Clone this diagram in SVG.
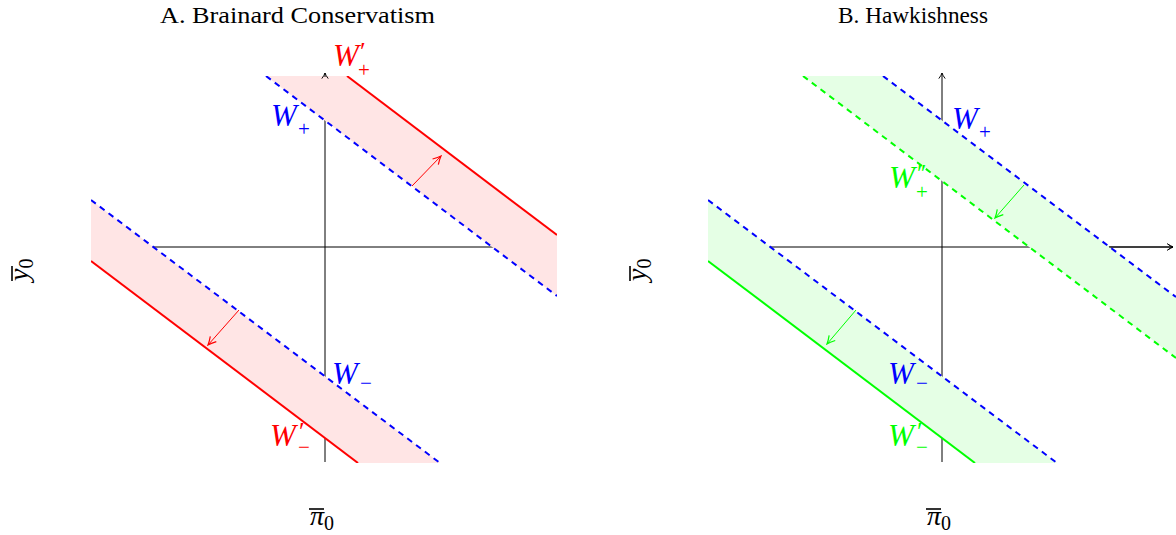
<svg xmlns="http://www.w3.org/2000/svg" width="1176" height="535" viewBox="0 0 1176 535">
<style>
.title{font-family:"Liberation Serif",serif;font-size:23px;fill:#000}
.lab{font-family:"Liberation Serif",serif;font-style:italic;font-size:31px}
.sub{font-size:21px;font-style:normal}
.pr{font-size:26px;font-style:normal}
.ax{stroke:#000;stroke-width:1;fill:none}
.dash{stroke:#0000FF;stroke-width:2;stroke-dasharray:6 5;fill:none}
.red{stroke:#FF0000;stroke-width:2;fill:none}
.grn{stroke:#00FF00;stroke-width:2;fill:none}
.grnd{stroke:#00FF00;stroke-width:2;stroke-dasharray:6 5;fill:none}
.pink{fill:#FFE5E5;stroke:none}
.lgrn{fill:#E5FFE5;stroke:none}
.axl{font-family:"Liberation Serif",serif;font-style:italic;font-size:28px;fill:#000}
.axs{font-size:20px;font-style:normal}
</style>
<defs>
<clipPath id="clipA"><rect x="91" y="76" width="466" height="387"/></clipPath>
<clipPath id="clipB"><rect x="708" y="76" width="468" height="387"/></clipPath>
<marker id="axarrow" viewBox="0 0 10 10" refX="9" refY="5" markerWidth="8" markerHeight="8" markerUnits="userSpaceOnUse" orient="auto">
<path d="M2,1 Q6,4 9,5 Q6,6 2,9" fill="none" stroke="#000" stroke-width="1.2"/>
</marker>
<marker id="redarrow" viewBox="0 0 10 10" refX="9" refY="5" markerWidth="10" markerHeight="10" markerUnits="userSpaceOnUse" orient="auto">
<path d="M1,1 Q6,4 9,5 Q6,6 1,9" fill="none" stroke="#FF0000" stroke-width="1.2"/>
</marker>
<marker id="grnarrow" viewBox="0 0 10 10" refX="9" refY="5" markerWidth="10" markerHeight="10" markerUnits="userSpaceOnUse" orient="auto">
<path d="M1,1 Q6,4 9,5 Q6,6 1,9" fill="none" stroke="#00FF00" stroke-width="1.2"/>
</marker>
</defs>

<g id="titles">
<text class="title" x="160" y="23" textLength="275" lengthAdjust="spacingAndGlyphs">A. Brainard Conservatism</text>
<text class="title" x="838" y="23" textLength="150" lengthAdjust="spacingAndGlyphs">B. Hawkishness</text>
</g>

<g id="panelA">
<g id="axesA">
<line class="ax" x1="94" y1="247" x2="556" y2="247" marker-end="url(#axarrow)"/>
<line class="ax" x1="325" y1="462" x2="325" y2="76"/>
</g>
<g id="bandsA" clip-path="url(#clipA)">
<polygon class="pink" points="266,76 347,76 557,235 557,296"/>
<polygon class="pink" points="91,200 440,463 358,463 91,261"/>
</g>
<g id="connectorsA">
<line class="ax" x1="325" y1="77" x2="325" y2="73" marker-end="url(#axarrow)"/>
<g clip-path="url(#clipA)">
<line class="dash" x1="266" y1="76" x2="557" y2="296"/>
<line class="red" x1="347" y1="76" x2="557" y2="235"/>
<line class="dash" x1="91" y1="200" x2="440" y2="463"/>
<line class="red" x1="91" y1="261" x2="358" y2="463"/>
<line stroke="#FF0000" stroke-width="1" x1="412" y1="186" x2="441" y2="156" marker-end="url(#redarrow)"/>
<line stroke="#FF0000" stroke-width="1" x1="239" y1="310" x2="208" y2="345" marker-end="url(#redarrow)"/>
</g>
</g>
<g id="labelsA">
<text class="lab" fill="#0000FF" x="271" y="126">W<tspan class="sub" x="298" y="136">+</tspan></text>
<text class="lab" fill="#FF0000" x="333" y="66">W<tspan class="pr" x="360" y="60">′</tspan><tspan class="sub" x="358" y="77">+</tspan></text>
<text class="lab" fill="#0000FF" x="332" y="384">W<tspan class="sub" x="360" y="390">−</tspan></text>
<text class="lab" fill="#FF0000" x="270" y="446">W<tspan class="pr" x="299" y="440">′</tspan><tspan class="sub" x="298" y="454">−</tspan></text>
</g>
<g id="axlabelsA">
<text class="axl" x="310" y="525">π<tspan class="axs" dy="5">0</tspan></text>
<line x1="309" y1="509" x2="324" y2="509" stroke="#000" stroke-width="1.6"/>
<g transform="translate(28,281) rotate(-90)">
<text class="axl" x="0" y="0">y<tspan class="axs" dy="5">0</tspan></text>
<line x1="0" y1="-16" x2="15" y2="-16" stroke="#000" stroke-width="1.6"/>
</g>
</g>
</g>

<g id="panelB">
<g id="axesB">
<line class="ax" x1="711" y1="247" x2="1173" y2="247" marker-end="url(#axarrow)"/>
<line class="ax" x1="942" y1="462" x2="942" y2="73" marker-end="url(#axarrow)"/>
</g>
<g id="bandsB" clip-path="url(#clipB)">
<polygon class="lgrn" points="803,76 883,76 1176,297 1176,358"/>
<polygon class="lgrn" points="708,200 1057,463 975,463 708,261"/>
</g>
<g id="connectorsB" clip-path="url(#clipB)">
<line class="ax" x1="1109" y1="247" x2="1173" y2="247" marker-end="url(#axarrow)"/>
<line class="dash" x1="883" y1="76" x2="1176" y2="297"/>
<line class="grnd" x1="803" y1="76" x2="1176" y2="358"/>
<line class="dash" x1="708" y1="200" x2="1057" y2="463"/>
<line class="grn" x1="708" y1="261" x2="975" y2="463"/>
<line stroke="#00FF00" stroke-width="1" x1="1024" y1="185" x2="995" y2="218" marker-end="url(#grnarrow)"/>
<line stroke="#00FF00" stroke-width="1" x1="856" y1="310" x2="827" y2="344" marker-end="url(#grnarrow)"/>
</g>
<g id="labelsB">
<text class="lab" fill="#0000FF" x="952" y="129">W<tspan class="sub" x="979" y="139">+</tspan></text>
<text class="lab" fill="#00FF00" x="889" y="188">W<tspan class="pr" x="917" y="182" letter-spacing="-2">′′</tspan><tspan class="sub" x="916" y="199">+</tspan></text>
<text class="lab" fill="#0000FF" x="888" y="384">W<tspan class="sub" x="916" y="390">−</tspan></text>
<text class="lab" fill="#00FF00" x="888" y="446">W<tspan class="pr" x="917" y="440">′</tspan><tspan class="sub" x="916" y="454">−</tspan></text>
</g>
<g id="axlabelsB">
<text class="axl" x="927" y="525">π<tspan class="axs" dy="5">0</tspan></text>
<line x1="926" y1="509" x2="941" y2="509" stroke="#000" stroke-width="1.6"/>
<g transform="translate(646,281) rotate(-90)">
<text class="axl" x="0" y="0">y<tspan class="axs" dy="5">0</tspan></text>
<line x1="0" y1="-16" x2="15" y2="-16" stroke="#000" stroke-width="1.6"/>
</g>
</g>
</g>
</svg>
